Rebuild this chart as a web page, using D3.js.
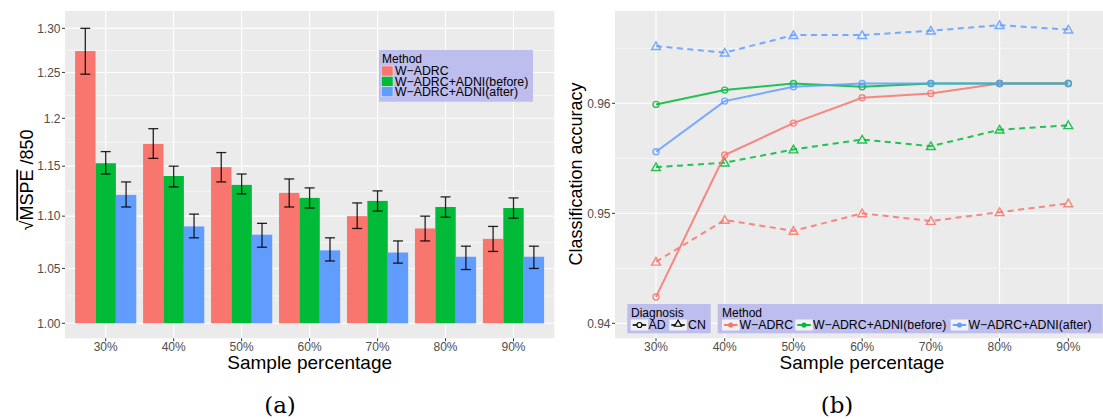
<!DOCTYPE html>
<html><head><meta charset="utf-8">
<script src="https://cdn.jsdelivr.net/npm/d3@7/dist/d3.min.js"></script>
<style>body{margin:0;background:#fff}svg{display:block;font-family:"Liberation Sans",Arial,sans-serif}</style>
</head><body><svg id="c" width="1103" height="419"></svg>
<script>
const categories = ["30%","40%","50%","60%","70%","80%","90%"];
const methods = ["W\u2212ADRC","W\u2212ADRC+ADNI(before)","W\u2212ADRC+ADNI(after)"];
const colors = ["#F8766D","#00BA38","#619CFF"];
// panel (a): sqrt(MSPE)/850
const mspeADRC    = [1.274,1.173,1.149,1.123,1.100,1.088,1.078];
const mspeADRCLo  = [1.248,1.158,1.134,1.109,1.088,1.076,1.066];
const mspeADRCHi  = [1.300,1.189,1.164,1.137,1.113,1.100,1.090];
const mspeBefore   = [1.153,1.140,1.131,1.118,1.115,1.109,1.108];
const mspeBeforeLo = [1.142,1.129,1.122,1.108,1.105,1.099,1.098];
const mspeBeforeHi = [1.165,1.150,1.142,1.128,1.125,1.119,1.118];
const mspeAfter   = [1.121,1.090,1.082,1.067,1.065,1.061,1.061];
const mspeAfterLo = [1.109,1.079,1.070,1.057,1.055,1.049,1.050];
const mspeAfterHi = [1.134,1.102,1.093,1.079,1.076,1.071,1.071];
const leftTicks = [1.00,1.05,1.10,1.15,1.2,1.25,1.30];
const leftTickLabels = ["1.00","1.05","1.10","1.15","1.2","1.25","1.30"];
// panel (b): classification accuracy
const accADRC_AD   = [0.9424,0.9553,0.9582,0.9605,0.9609,0.9618,0.9618];
const accBefore_AD = [0.9599,0.9612,0.9618,0.9615,0.9618,0.9618,0.9618];
const accAfter_AD  = [0.9556,0.9602,0.9615,0.9618,0.9618,0.9618,0.9618];
const accADRC_CN   = [0.9456,0.9494,0.9484,0.9500,0.9493,0.9501,0.9509];
const accBefore_CN = [0.9542,0.9546,0.9558,0.9567,0.9561,0.9576,0.9580];
const accAfter_CN  = [0.9652,0.9646,0.9662,0.9662,0.9666,0.9671,0.9667];
const rightTicks = [0.94,0.95,0.96];
const rightTickLabels = ["0.94","0.95","0.96"];
const diagnoses = ["AD","CN"];

const svg = d3.select("#c");
const GRID="#EBEBEB", TXT="#4D4D4D";

// ---------- Panel (a) ----------
const A = {l:65, r:554.3, t:11, b:338.3};
const xa = d3.scalePoint().domain(categories).range([105.7,513.5]);
const stepA = xa.step();
const ya = d3.scaleLog().domain([0.98675,1.3202]).range([A.b,A.t]);
const ga = svg.append("g");
ga.append("rect").attr("x",A.l).attr("y",A.t).attr("width",A.r-A.l).attr("height",A.b-A.t).attr("fill",GRID);
const minorA = [];
for(let i=0;i<leftTicks.length-1;i++) minorA.push(Math.sqrt(leftTicks[i]*leftTicks[i+1]));
ga.selectAll(".mn").data(minorA).join("line").attr("x1",A.l).attr("x2",A.r)
  .attr("y1",d=>ya(d)).attr("y2",d=>ya(d)).attr("stroke","#fff").attr("stroke-width",0.55);
ga.selectAll(".mj").data(leftTicks).join("line").attr("x1",A.l).attr("x2",A.r)
  .attr("y1",d=>ya(d)).attr("y2",d=>ya(d)).attr("stroke","#fff").attr("stroke-width",1.1);
ga.selectAll(".vx").data(categories).join("line").attr("y1",A.t).attr("y2",A.b)
  .attr("x1",d=>xa(d)).attr("x2",d=>xa(d)).attr("stroke","#fff").attr("stroke-width",1.1);
const seriesA = [
  {v:mspeADRC,lo:mspeADRCLo,hi:mspeADRCHi},
  {v:mspeBefore,lo:mspeBeforeLo,hi:mspeBeforeHi},
  {v:mspeAfter,lo:mspeAfterLo,hi:mspeAfterHi}];
const bw = stepA*0.3;
seriesA.forEach((s,si)=>{
  const off = (si-1)*bw;
  ga.selectAll(".b"+si).data(categories).join("rect")
    .attr("x",d=>xa(d)+off-bw/2).attr("width",bw)
    .attr("y",(d,i)=>ya(s.v[i])).attr("height",(d,i)=>ya(1.0)-ya(s.v[i]))
    .attr("fill",colors[si]);
});
seriesA.forEach((s,si)=>{
  const off = (si-1)*bw;
  const eg = ga.append("g").attr("stroke","#000").attr("stroke-opacity",0.85).attr("stroke-width",1.3);
  categories.forEach((c,i)=>{
    const cx = xa(c)+off, y1=ya(s.lo[i]), y2=ya(s.hi[i]);
    eg.append("line").attr("x1",cx).attr("x2",cx).attr("y1",y1).attr("y2",y2);
    eg.append("line").attr("x1",cx-5).attr("x2",cx+5).attr("y1",y1).attr("y2",y1);
    eg.append("line").attr("x1",cx-5).attr("x2",cx+5).attr("y1",y2).attr("y2",y2);
  });
});
leftTicks.forEach((t,i)=>{
  ga.append("line").attr("x1",A.l-3).attr("x2",A.l).attr("y1",ya(t)).attr("y2",ya(t)).attr("stroke","#333").attr("stroke-width",1);
  ga.append("text").attr("x",A.l-4.5).attr("y",ya(t)).attr("dy","0.35em").attr("text-anchor","end")
    .attr("font-size",12).attr("fill",TXT).text(leftTickLabels[i]);
});
categories.forEach(c=>{
  ga.append("line").attr("x1",xa(c)).attr("x2",xa(c)).attr("y1",A.b).attr("y2",A.b+3).attr("stroke","#333");
  ga.append("text").attr("x",xa(c)).attr("y",347).attr("dy","0.35em").attr("text-anchor","middle")
    .attr("font-size",12).attr("fill",TXT).text(c);
});
ga.append("text").attr("x",(A.l+A.r)/2).attr("y",362).attr("dy","0.35em").attr("text-anchor","middle")
  .attr("font-size",19).attr("fill","#000").text("Sample percentage");
const yl = ga.append("text").attr("transform","translate(27,180) rotate(-90)").attr("text-anchor","middle")
  .attr("dy","0.35em").attr("font-size",18).attr("fill","#000");
yl.append("tspan").text("\u221A");
yl.append("tspan").attr("text-decoration","overline").text("MSPE");
yl.append("tspan").text(" /850");
const la = ga.append("g");
la.append("rect").attr("x",379).attr("y",50).attr("width",154).attr("height",51.7).attr("fill","#BDBDEE");
la.append("text").attr("x",382).attr("y",58.5).attr("dy","0.35em").attr("font-size",12).attr("fill","#000").text("Method");
methods.forEach((m,i)=>{
  const cy = 71+i*10.4;
  la.append("rect").attr("x",381.5).attr("y",cy-5).attr("width",11.5).attr("height",10).attr("fill",colors[i])
    .attr("stroke","#fff").attr("stroke-width",0.4);
  la.append("text").attr("x",395).attr("y",cy).attr("dy","0.35em").attr("font-size",12.3).attr("fill","#000").text(m);
});
svg.append("text").attr("x",280).attr("y",405).attr("dy","0.35em").attr("text-anchor","middle")
  .attr("font-family","DejaVu Serif, serif").attr("font-size",23).attr("fill","#000").text("(a)");

// ---------- Panel (b) ----------
const B = {l:615, r:1110, t:11, b:338.3};
const xb = d3.scalePoint().domain(categories).range([656,1068.3]);
const yb = d3.scaleLinear().domain([0.93864,0.96839]).range([B.b,B.t]);
const gb = svg.append("g");
gb.append("rect").attr("x",B.l).attr("y",B.t).attr("width",B.r-B.l).attr("height",B.b-B.t).attr("fill",GRID);
const minorB = [0.945,0.955,0.965];
gb.selectAll(".mn").data(minorB).join("line").attr("x1",B.l).attr("x2",B.r)
  .attr("y1",d=>yb(d)).attr("y2",d=>yb(d)).attr("stroke","#fff").attr("stroke-width",0.55);
gb.selectAll(".mj").data(rightTicks).join("line").attr("x1",B.l).attr("x2",B.r)
  .attr("y1",d=>yb(d)).attr("y2",d=>yb(d)).attr("stroke","#fff").attr("stroke-width",1.1);
gb.selectAll(".vx").data(categories).join("line").attr("y1",B.t).attr("y2",B.b)
  .attr("x1",d=>xb(d)).attr("x2",d=>xb(d)).attr("stroke","#fff").attr("stroke-width",1.1);
const seriesB = [
  {v:accADRC_CN,m:0,d:1},{v:accBefore_CN,m:1,d:1},{v:accAfter_CN,m:2,d:1},
  {v:accADRC_AD,m:0,d:0},{v:accBefore_AD,m:1,d:0},{v:accAfter_AD,m:2,d:0}];
const line = d3.line().x((d,i)=>xb(categories[i])).y(d=>yb(d));
const tri = d3.symbol().type(d3.symbolTriangle).size(34);
seriesB.forEach(s=>{
  gb.append("path").attr("d",line(s.v)).attr("fill","none").attr("stroke",colors[s.m])
    .attr("stroke-width",2).attr("stroke-opacity",0.85)
    .attr("stroke-dasharray",s.d===1?"6,4.5":null);
  s.v.forEach((v,i)=>{
    if(s.d===0){
      gb.append("circle").attr("cx",xb(categories[i])).attr("cy",yb(v)).attr("r",3)
        .attr("fill","none").attr("stroke",colors[s.m]).attr("stroke-width",1.4).attr("stroke-opacity",0.85);
    } else {
      gb.append("path").attr("d",tri).attr("transform",`translate(${xb(categories[i])},${yb(v)+0.8})`)
        .attr("fill","none").attr("stroke",colors[s.m]).attr("stroke-width",1.4).attr("stroke-opacity",0.85);
    }
  });
});
rightTicks.forEach((t,i)=>{
  gb.append("line").attr("x1",B.l-3).attr("x2",B.l).attr("y1",yb(t)).attr("y2",yb(t)).attr("stroke","#333");
  gb.append("text").attr("x",B.l-4.5).attr("y",yb(t)).attr("dy","0.35em").attr("text-anchor","end")
    .attr("font-size",12).attr("fill",TXT).text(rightTickLabels[i]);
});
categories.forEach(c=>{
  gb.append("line").attr("x1",xb(c)).attr("x2",xb(c)).attr("y1",B.b).attr("y2",B.b+3).attr("stroke","#333");
  gb.append("text").attr("x",xb(c)).attr("y",347).attr("dy","0.35em").attr("text-anchor","middle")
    .attr("font-size",12).attr("fill",TXT).text(c);
});
gb.append("text").attr("x",862).attr("y",362).attr("dy","0.35em").attr("text-anchor","middle")
  .attr("font-size",19).attr("fill","#000").text("Sample percentage");
gb.append("text").attr("transform","translate(576,174) rotate(-90)").attr("text-anchor","middle")
  .attr("dy","0.35em").attr("font-size",18).attr("fill","#000").text("Classification accuracy");
const lb = gb.append("g");
lb.append("rect").attr("x",627.3).attr("y",304).attr("width",83.4).attr("height",29.3).attr("fill","#BDBDEE");
lb.append("text").attr("x",631).attr("y",312.5).attr("dy","0.35em").attr("font-size",12).attr("fill","#000").text("Diagnosis");
const dKeys = [{x:630.7,tx:648.5},{x:669.3,tx:688}];
diagnoses.forEach((d,i)=>{
  const k = dKeys[i], cy = 325;
  lb.append("rect").attr("x",k.x).attr("y",cy-5.5).attr("width",17.5).attr("height",11).attr("fill","#F2F2F2");
  lb.append("line").attr("x1",k.x+2).attr("x2",k.x+15.5).attr("y1",cy).attr("y2",cy).attr("stroke","#000").attr("stroke-width",1.6);
  if(i===0) lb.append("circle").attr("cx",k.x+8.75).attr("cy",cy).attr("r",2.5).attr("fill","#F2F2F2").attr("stroke","#000").attr("stroke-width",1.2);
  else lb.append("path").attr("d",d3.symbol().type(d3.symbolTriangle).size(22)).attr("transform",`translate(${k.x+8.75},${cy-0.8})`).attr("fill","#F2F2F2").attr("stroke","#000").attr("stroke-width",1.2);
  lb.append("text").attr("x",k.tx).attr("y",cy).attr("dy","0.35em").attr("font-size",12.3).attr("fill","#000").text(d);
});
lb.append("rect").attr("x",717.7).attr("y",304).attr("width",385).attr("height",29.3).attr("fill","#BDBDEE");
lb.append("text").attr("x",722).attr("y",312.5).attr("dy","0.35em").attr("font-size",12).attr("fill","#000").text("Method");
const mKeys = [{x:722,tx:739.5},{x:795.3,tx:813},{x:950.7,tx:968.5}];
methods.forEach((m,i)=>{
  const k = mKeys[i], cy = 325;
  lb.append("rect").attr("x",k.x).attr("y",cy-5.5).attr("width",17.5).attr("height",11).attr("fill","#F2F2F2");
  lb.append("line").attr("x1",k.x+2).attr("x2",k.x+15.5).attr("y1",cy).attr("y2",cy).attr("stroke",colors[i]).attr("stroke-width",1.9);
  lb.append("circle").attr("cx",k.x+8.75).attr("cy",cy).attr("r",2.6).attr("fill",colors[i]);
  lb.append("text").attr("x",k.tx).attr("y",cy).attr("dy","0.35em").attr("font-size",12.3).attr("fill","#000").text(m);
});
svg.append("text").attr("x",837).attr("y",405).attr("dy","0.35em").attr("text-anchor","middle")
  .attr("font-family","DejaVu Serif, serif").attr("font-size",23).attr("fill","#000").text("(b)");
</script></body></html>
